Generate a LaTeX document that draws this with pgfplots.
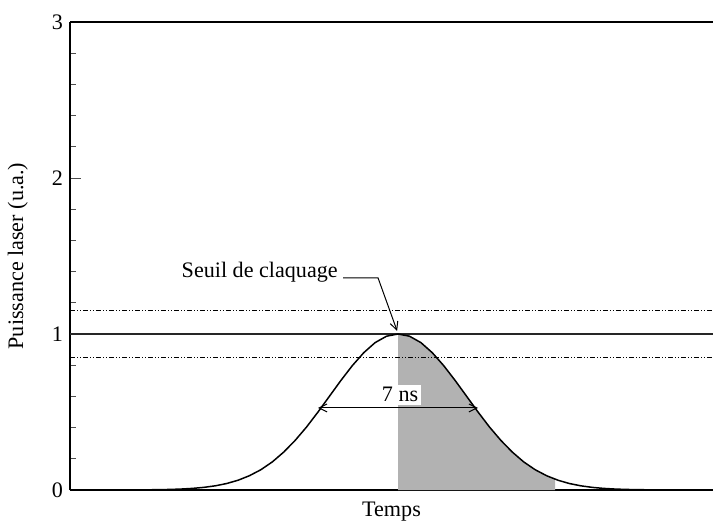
\documentclass[border=0pt]{standalone}
\usepackage{fontspec}
\setmainfont{Liberation Serif}
\usepackage{pgfplots}
\pgfplotsset{compat=1.18}
\usetikzlibrary{arrows.meta}
\begin{document}
\begin{tikzpicture}[font=\fontsize{11.1}{13.3}\selectfont]
\useasboundingbox (-35bp,-21bp) rectangle (321.5bp,245bp);
\begin{axis}[
  scale only axis,
  width=321.5bp, height=234bp,
  at={(0,0)}, anchor=south west,
  xmin=-14.35, xmax=13.78,
  ymin=0, ymax=3,
  axis y line*=left,
  xtick=\empty,
  ytick={0,1,2,3},
  minor y tick num=4,
  tick align=inside,
  major tick length=5.5bp,
  minor tick length=3bp,
  tick style={black!70, line width=0.5pt},
  axis line style={line width=0.9bp},
  /pgf/number format/assume math mode=true,
  yticklabel style={font=\fontsize{11.1}{13.3}\selectfont},
  xlabel={Temps},
  ylabel={Puissance laser (u.a.)},
  xlabel style={at={(axis description cs:0.5,-0.047)}, anchor=center},
  ylabel style={at={(axis description cs:-0.081,0.5)}, anchor=center, rotate=0},
  clip=false,
]
% shaded area (peak to 6.87 ns)
\addplot[draw=none, fill=black!30] coordinates {
 (0,1) (0.5,0.986) (1,0.945) (1.5,0.880) (2,0.797) (2.5,0.702) (3,0.601)
 (3.5,0.500) (4,0.404) (4.5,0.318) (5,0.243) (5.5,0.180) (6,0.130)
 (6.5,0.0916) (6.87,0.0692)
} \closedcycle;
% threshold lines
\addplot[black!85, line width=0.6pt] coordinates {(-14.35,1) (13.78,1)};
\addplot[black, line width=0.5pt, dash pattern=on 2.5bp off 1bp on 0.5bp off 1bp on 0.5bp off 1bp] coordinates {(-14.35,1.15) (13.78,1.15)};
\addplot[black, line width=0.5pt, dash pattern=on 2.5bp off 1bp on 0.5bp off 1bp on 0.5bp off 1bp] coordinates {(-14.35,0.85) (13.78,0.85)};
% gaussian pulse
\addplot[black, line width=0.75pt] coordinates {
 (-14.35,0) (-14,0) (-13,0.00007) (-12,0.00029) (-11,0.00106) (-10,0.00349)
 (-9.5,0.00605) (-9,0.0102) (-8.5,0.0168) (-8,0.0267) (-7.5,0.0414)
 (-7,0.0625) (-6.5,0.0916) (-6,0.130) (-5.5,0.180) (-5,0.243) (-4.5,0.318)
 (-4,0.404) (-3.5,0.500) (-3,0.601) (-2.5,0.702) (-2,0.797) (-1.5,0.880)
 (-1,0.945) (-0.5,0.986) (0,1)
 (0.5,0.986) (1,0.945) (1.5,0.880) (2,0.797) (2.5,0.702) (3,0.601)
 (3.5,0.500) (4,0.404) (4.5,0.318) (5,0.243) (5.5,0.180) (6,0.130)
 (6.5,0.0916) (7,0.0625) (7.5,0.0414) (8,0.0267) (8.5,0.0168) (9,0.0102)
 (9.5,0.00605) (10,0.00349) (11,0.00106) (12,0.00029) (13,0.00007)
 (13.78,0)
};
% FWHM annotation
\node[fill=white, inner sep=1.2bp] at (axis cs:0.09,0.61) {7 ns};
\draw[{Straight Barb[length=4pt,width=4pt]}-{Straight Barb[length=4pt,width=4pt]}, line width=0.5pt]
  (axis cs:-3.5,0.526) -- (axis cs:3.5,0.526);
% threshold annotation
\node[anchor=base east, inner sep=0pt] at (axis cs:-2.62,1.36) {Seuil de claquage};
\draw[-{Straight Barb[length=4pt,width=4pt]}, line width=0.5pt]
  (axis cs:-2.40,1.36) -- (axis cs:-0.875,1.36) -- (axis cs:-0.04,1.02);
\end{axis}
\end{tikzpicture}
\end{document}
